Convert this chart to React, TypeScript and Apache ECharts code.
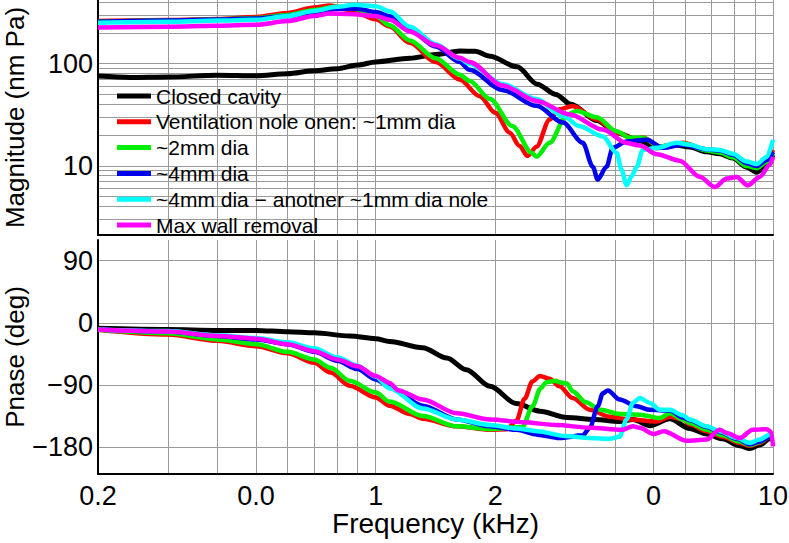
import React, { useEffect, useRef } from "react";
import * as echarts from "echarts";

const seriesNames = [
  "Closed cavity",
  "Ventilation nole onen: ~1mm dia",
  "~2mm dia",
  "~4mm dia",
  "~4mm dia − anotner ~1mm dia nole",
  "Max wall removal",
];
const seriesColors = ["#000000", "#ff0000", "#00ee00", "#0000ee", "#00ffff", "#ff00ff"];

const xTickValues = [0.2, 0.5, 1, 2, 5, 10];
const xTickLabels = ["0.2", "0.0", "1", "2", "0", "10"];
const xGridValues = [0.2, 0.3, 0.4, 0.5, 0.6, 0.7, 0.8, 0.9, 1, 2, 3, 4, 5, 6, 7, 8, 9, 10];
const magTickValues = [10, 100];
const magGridValues = [3, 4, 5, 6, 7, 8, 9, 10, 20, 30, 40, 50, 60, 70, 80, 90, 100, 200, 300, 400];
const phaseTickValues = [90, 0, -90, -180];
const phaseTickLabels = ["90", "0", "−90", "−180"];

// Magnitude (nm Pa) vs frequency (kHz)
const magClosed = [[0.2, 75.5], [0.241, 73.2], [0.3, 74], [0.4, 77], [0.5, 76], [0.6, 79.6], [0.7, 85], [0.8, 89], [0.9, 97], [1.0, 104], [1.22, 113], [1.42, 123], [1.63, 133], [1.78, 132], [1.94, 118], [2.27, 93], [2.55, 63], [2.84, 50], [3.1, 40], [3.6, 27.8], [4.04, 21.1], [4.62, 17.6], [5.1, 15.0], [5.59, 16.1], [6.17, 15.3], [6.81, 13.7], [7.34, 13.1], [7.92, 11.9], [8.59, 9.7], [9.1, 8.65], [9.64, 10.2], [10, 12.8]];
const magRed = [[0.2, 261], [0.3, 267], [0.4, 274], [0.5, 287], [0.6, 314], [0.7, 355], [0.766, 370], [0.86, 336], [1.0, 272], [1.084, 231], [1.218, 160], [1.416, 104], [1.627, 70], [1.827, 48], [2.0, 33], [2.175, 21.1], [2.3, 15.7], [2.41, 12.5], [2.54, 15.4], [2.74, 28.4], [2.9, 35.7], [3.13, 38.5], [3.6, 28.4], [4.04, 21.1], [4.54, 18.0], [4.7, 18.9], [5.19, 15.4], [5.93, 16.8], [6.81, 14.3], [7.34, 13.8], [7.92, 12.3], [8.59, 10.2], [9.1, 9.7], [9.64, 11.4], [10, 14.3]];
const magGreen = [[0.2, 257], [0.3, 264], [0.4, 270], [0.5, 280], [0.6, 300], [0.7, 336], [0.789, 360], [0.885, 344], [1.0, 293], [1.084, 238], [1.218, 169], [1.416, 113], [1.627, 78], [1.72, 68], [1.94, 45], [2.21, 24.4], [2.47, 13.4], [2.54, 12.3], [2.74, 16.8], [3.03, 31.8], [3.21, 34.4], [3.6, 29.8], [4.04, 21.8], [4.36, 18.8], [4.7, 18.8], [5.19, 15.4], [5.93, 16.6], [6.81, 14.1], [7.34, 13.5], [7.92, 12.1], [8.59, 9.93], [9.1, 9.5], [9.64, 10.9], [10, 13.4]];
const magBlue = [[0.2, 257], [0.3, 264], [0.4, 270], [0.5, 277], [0.6, 293], [0.7, 320], [0.8, 345], [0.9, 345], [1.0, 321], [1.084, 291], [1.218, 214], [1.416, 147], [1.627, 104], [1.72, 87], [2.09, 55], [2.54, 38.6], [2.96, 26.5], [3.32, 16.8], [3.52, 9.77], [3.62, 7.33], [3.81, 9.77], [3.95, 15.0], [4.28, 17.3], [4.81, 18.0], [5.28, 15.0], [5.93, 16.1], [6.81, 14.5], [7.34, 14.1], [7.92, 12.8], [8.59, 10.6], [9.1, 9.93], [9.64, 11.4], [10, 13.7]];
const magCyan = [[0.2, 251], [0.3, 257], [0.4, 264], [0.5, 269], [0.6, 293], [0.7, 328], [0.8, 360], [0.885, 377], [1.0, 364], [1.084, 326], [1.218, 230], [1.416, 155], [1.627, 112], [1.72, 100], [2.09, 63], [2.54, 45], [2.96, 30.7], [3.26, 24.4], [3.73, 19.4], [4.04, 13.4], [4.16, 9.06], [4.28, 6.43], [4.41, 7.9], [4.54, 9.77], [4.7, 14.3], [5.1, 15], [5.72, 16.8], [6.17, 16.1], [6.81, 14.5], [7.34, 14.3], [7.92, 13.1], [8.59, 11], [9.1, 10.4], [9.64, 12.2], [10, 18]];
const magMagenta = [[0.2, 226], [0.3, 230], [0.4, 235], [0.5, 240], [0.6, 261], [0.7, 293], [0.766, 310], [0.86, 307], [1.0, 293], [1.084, 269], [1.218, 207], [1.416, 151], [1.627, 114], [1.72, 104], [2.09, 61], [2.54, 43.2], [3.08, 31.8], [3.73, 22.6], [4.28, 16.7], [4.62, 15.8], [5.1, 13], [5.82, 11.2], [6.54, 7.8], [7.13, 6.19], [7.65, 7.5], [8.1, 7.78], [8.64, 6.43], [9.26, 7.78], [9.81, 10.2], [10, 12.2]];

// Phase (deg) vs frequency (kHz)
const phClosed = [[0.2, -8], [0.3, -9.7], [0.4, -11], [0.5, -11], [0.6, -13], [0.7, -14.5], [0.86, -19], [1.0, -23], [1.084, -27], [1.313, -36], [1.51, -51], [1.69, -68], [1.94, -92], [2.26, -117], [2.59, -128], [3.03, -137], [3.56, -140], [4.11, -143], [4.44, -140], [4.9, -149], [5.5, -139], [6.17, -153], [6.81, -161], [7.47, -168], [8.24, -178], [8.74, -182], [9.26, -177], [9.81, -168], [10, -169]];
const phRed = [[0.2, -10], [0.3, -17], [0.4, -26], [0.5, -34], [0.6, -44], [0.7, -58], [0.77, -72], [0.86, -91], [1.0, -108], [1.084, -120], [1.218, -132], [1.313, -139], [1.6, -150], [1.94, -155], [2.14, -154], [2.26, -142], [2.37, -110], [2.48, -85], [2.59, -77], [2.74, -81], [2.9, -92], [3.13, -109], [3.46, -126], [3.88, -136], [4.36, -140], [5.1, -143], [5.5, -136], [5.93, -140], [6.17, -147], [6.81, -157], [7.47, -165], [8.24, -174], [8.74, -178], [9.26, -174], [9.81, -165], [10, -166]];
const phGreen = [[0.2, -10], [0.3, -15], [0.4, -24], [0.5, -31], [0.6, -42], [0.7, -53], [0.77, -65], [0.86, -84], [1.0, -101], [1.084, -114], [1.313, -135], [1.6, -150], [1.94, -154], [2.34, -151], [2.48, -121], [2.6, -95], [2.69, -86], [2.84, -84], [2.9, -86], [3.03, -88], [3.13, -99], [3.38, -115], [3.68, -126], [4.11, -132], [4.62, -133], [5.19, -138], [5.5, -131], [5.93, -140], [6.17, -145], [6.81, -155], [7.47, -163], [8.24, -172], [8.74, -177], [9.26, -173], [9.81, -164], [10, -165]];
const phBlue = [[0.2, -9.5], [0.3, -12.5], [0.4, -19], [0.5, -24], [0.6, -31], [0.7, -42], [0.8, -55], [0.9, -67], [1.0, -82], [1.084, -93], [1.313, -120], [1.6, -140], [1.94, -150], [2.26, -155], [2.55, -162], [2.9, -167], [3.32, -163], [3.46, -152], [3.62, -121], [3.73, -102], [3.84, -98], [4.11, -111], [4.54, -121], [4.9, -126], [5.5, -127], [5.93, -137], [6.17, -141], [6.81, -151], [7.34, -158], [8.1, -168], [8.74, -176], [9.26, -172], [9.81, -165], [10, -167]];
const phCyan = [[0.2, -9.5], [0.3, -12], [0.4, -18], [0.5, -22], [0.6, -28], [0.7, -37], [0.8, -50], [0.9, -62], [1.0, -78], [1.084, -95], [1.313, -124], [1.6, -140], [1.94, -148], [2.26, -153], [2.55, -157], [3.0, -164], [3.46, -167], [3.88, -168], [4.11, -165], [4.28, -140], [4.44, -116], [4.62, -109], [4.9, -116], [5.19, -126], [5.5, -126], [5.93, -134], [6.17, -140], [6.81, -150], [7.34, -157], [8.1, -167], [8.74, -174], [9.26, -169], [9.81, -162], [10, -165]];
const phMagenta = [[0.2, -9.5], [0.3, -12.6], [0.4, -19], [0.5, -23], [0.6, -31], [0.7, -41], [0.8, -53], [0.9, -63], [1.0, -77], [1.084, -87], [1.14, -98], [1.313, -111], [1.6, -131], [1.94, -140], [2.34, -144], [2.85, -148], [3.46, -152], [4.16, -155], [4.44, -150], [4.62, -152], [5.0, -161], [5.31, -157], [6.06, -171], [6.81, -169], [7.34, -155], [7.69, -160], [8.24, -167], [8.89, -155], [9.64, -154], [9.9, -158], [10, -179]];

const magSeries = [magClosed, magRed, magGreen, magBlue, magCyan, magMagenta];
const phSeries = [phClosed, phRed, phGreen, phBlue, phCyan, phMagenta];

const FONT = "'Liberation Sans', Arial, Helvetica, sans-serif";
const GRID_COLOR = "#9a9a9a";

export default function App() {
  const ref = useRef<HTMLDivElement>(null);
  useEffect(() => {
    if (!ref.current) return;
    const chart = echarts.init(ref.current, undefined, { renderer: "svg" });
    const axisLine = { show: true, onZero: false, lineStyle: { color: "#000", width: 2 } };
    const splitLine = { show: true, lineStyle: { color: GRID_COLOR, width: 1 } };
    const lineSeries = (data: number[][], i: number, panel: number) => ({
      type: "line",
      name: seriesNames[i],
      data,
      xAxisIndex: panel,
      yAxisIndex: panel,
      showSymbol: false,
      symbol: "none",
      smooth: 0.3,
      smoothMonotone: "x",
      color: seriesColors[i],
      lineStyle: { color: seriesColors[i], width: i === 0 ? 5 : 4.5 },
      z: 2 + i,
    });
    chart.setOption({
      animation: false,
      backgroundColor: "#ffffff",
      textStyle: { fontFamily: FONT },
      grid: [
        { left: 98, top: 0, width: 675, height: 235, outerBoundsMode: "none", containLabel: false },
        { left: 98, top: 240, width: 675, height: 234, outerBoundsMode: "none", containLabel: false },
      ],
      xAxis: [
        {
          type: "log",
          gridIndex: 0,
          min: 0.2,
          max: 10,
          axisLine,
          axisTick: { show: false, customValues: xGridValues },
          axisLabel: { show: false },
          splitLine,
        },
        {
          type: "log",
          gridIndex: 1,
          min: 0.2,
          max: 10,
          axisLine,
          axisTick: { show: false, customValues: xGridValues },
          axisLabel: {
            show: true,
            customValues: xTickValues,
            formatter: (v: number) => {
              const idx = xTickValues.findIndex((t) => Math.abs(t - v) < 1e-6);
              return idx >= 0 ? xTickLabels[idx] : "";
            },
            fontSize: 27,
            color: "#000",
            fontFamily: FONT,
            margin: 8,
          },
          splitLine,
          name: "Frequency (kHz)",
          nameLocation: "middle",
          nameGap: 34,
          nameTextStyle: { fontSize: 28, color: "#000", fontFamily: FONT },
        },
      ],
      yAxis: [
        {
          type: "log",
          gridIndex: 0,
          min: 2.1,
          max: 420,
          axisLine,
          axisTick: { show: false, customValues: magGridValues },
          axisLabel: {
            show: true,
            customValues: magTickValues,
            formatter: (v: number) => String(Math.round(v)),
            fontSize: 27,
            color: "#000",
            fontFamily: FONT,
            margin: 5,
          },
          splitLine,
          name: "Magnitude (nm Pa)",
          nameLocation: "middle",
          nameGap: 70,
          nameMoveOverlap: false,
          nameTextStyle: { fontSize: 26, color: "#000", fontFamily: FONT },
        },
        {
          type: "value",
          gridIndex: 1,
          min: -219,
          max: 120,
          axisLine,
          axisTick: { show: false, customValues: phaseTickValues },
          axisLabel: {
            show: true,
            customValues: phaseTickValues,
            formatter: (v: number) => {
              const idx = phaseTickValues.findIndex((t) => Math.abs(t - v) < 1e-6);
              return idx >= 0 ? phaseTickLabels[idx] : "";
            },
            fontSize: 27,
            color: "#000",
            fontFamily: FONT,
            margin: 5,
          },
          splitLine,
          name: "Pnase (deg)",
          nameLocation: "middle",
          nameGap: 70,
          nameMoveOverlap: false,
          nameTextStyle: { fontSize: 26, color: "#000", fontFamily: FONT },
        },
      ],
      legend: {
        data: seriesNames,
        orient: "vertical",
        left: 117,
        top: 85.5,
        padding: 0,
        icon: "rect",
        itemWidth: 34,
        itemHeight: 5,
        itemGap: 4.8,
        selectedMode: false,
        textStyle: { fontSize: 21, color: "#000", fontFamily: FONT, lineHeight: 21 },
      },
      series: [
        ...magSeries.map((d, i) => lineSeries(d, i, 0)),
        ...phSeries.map((d, i) => lineSeries(d, i, 1)),
      ],
    });
    return () => chart.dispose();
  }, []);
  return (
    <div
      ref={ref}
      style={{ position: "absolute", left: 0, top: 0, width: 789, height: 543, background: "#fff" }}
    />
  );
}
